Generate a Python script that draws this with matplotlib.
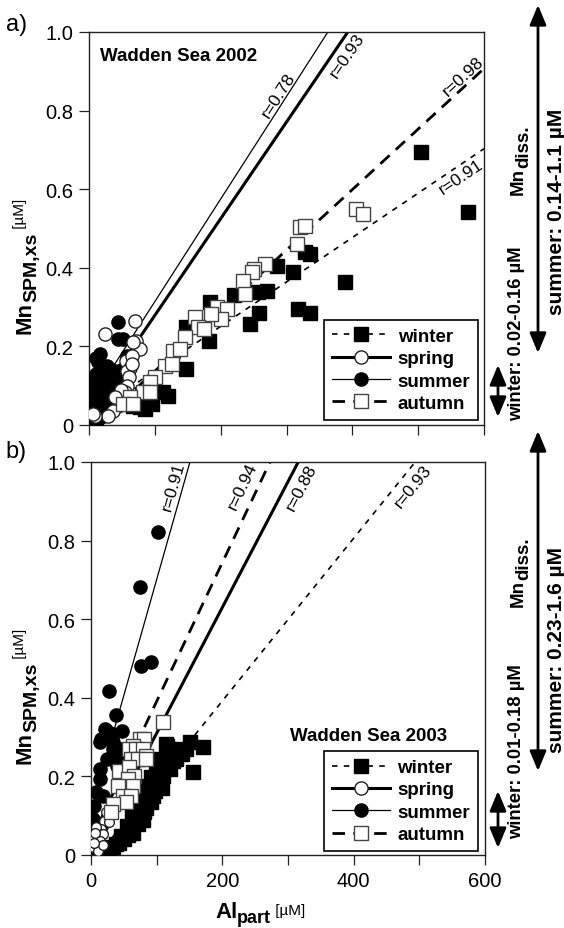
import numpy as np
import matplotlib
matplotlib.use("Agg")
import matplotlib.pyplot as plt
from matplotlib.lines import Line2D
from matplotlib.patches import FancyArrowPatch

plt.rcParams["font.family"] = ["Liberation Sans", "DejaVu Sans"]
plt.rcParams["lines.scale_dashes"] = False

W, H = 564, 929

seasons = ["winter", "spring", "summer", "autumn"]

# ---- Wadden Sea 2002: Al_part (uM) vs Mn_SPM,xs (uM) ----
winter_a_x = [504, 575, 389, 335, 328, 285, 310, 318, 335, 258, 245, 256, 270, 221, 184,
              147, 183, 148, 113, 120, 77, 95, 85, 67]
winter_a_y = [0.695, 0.543, 0.365, 0.435, 0.44, 0.405, 0.389, 0.295, 0.284, 0.285, 0.257,
              0.338, 0.342, 0.331, 0.314, 0.249, 0.215, 0.142, 0.083, 0.075, 0.045, 0.053,
              0.041, 0.049]
spring_a_x = [70, 24, 72, 78, 67, 56, 62, 57, 60, 57, 55, 52, 44, 37, 29, 9, 65, 66, 6, 48, 40]
spring_a_y = [0.265, 0.232, 0.215, 0.193, 0.212, 0.162, 0.145, 0.138, 0.121, 0.1, 0.083,
              0.066, 0.049, 0.036, 0.024, 0.024, 0.176, 0.155, 0.028, 0.09, 0.07]
summer_a_x = [44, 44, 52, 57, 17, 5, 8, 10, 12, 15, 18, 20, 22, 25, 28, 30, 33, 35, 38, 40,
              42, 45, 48, 50, 14, 10, 6, 4, 9, 16, 20, 26, 30, 35, 12, 3, 7, 24, 32, 44, 52,
              27, 19, 11, 6, 12, 18]
summer_a_y = [0.261, 0.219, 0.219, 0.176, 0.181, 0.03, 0.05, 0.08, 0.10, 0.12, 0.14, 0.11,
              0.09, 0.13, 0.15, 0.12, 0.10, 0.14, 0.12, 0.10, 0.13, 0.11, 0.14, 0.12, 0.16,
              0.13, 0.10, 0.07, 0.04, 0.06, 0.07, 0.08, 0.06, 0.08, 0.02, 0.05, 0.12, 0.11,
              0.09, 0.10, 0.13, 0.05, 0.15, 0.17, 0.015, 0.01, 0.02]
autumn_a_x = [406, 416, 321, 328, 316, 267, 250, 247, 234, 237, 194, 209, 201, 186, 161, 166,
              174, 146, 128, 138, 115, 126, 100, 93, 82, 93, 62, 52, 67]
autumn_a_y = [0.55, 0.537, 0.503, 0.507, 0.46, 0.41, 0.397, 0.389, 0.367, 0.333, 0.299,
              0.295, 0.27, 0.282, 0.274, 0.249, 0.244, 0.223, 0.189, 0.193, 0.151, 0.155,
              0.121, 0.109, 0.083, 0.083, 0.07, 0.053, 0.053]

# regression lines (slope, intercept) and correlation coefficients, 2002
fit_a_slope = [0.00113, 0.00246, 0.00261, 0.00154]
fit_a_icpt = [0.025, 0.033, 0.053, -0.017]
r_a = ["0.91", "0.93", "0.78", "0.98"]
r_a_pos = [(565, 0.634), (392, 0.941), (288, 0.84), (568, 0.888)]

# ---- Wadden Sea 2003 ----
winter_b_x = [22, 28, 38, 45, 43, 55, 56, 63, 64, 71, 72, 78, 79, 84, 86, 91, 92, 97, 99,
              102, 106, 110, 114, 115, 120, 122, 125, 138, 151, 156, 171, 50, 60, 68, 75, 80,
              88, 95, 104, 108, 118, 130, 134, 145, 33]
winter_b_y = [0.012, 0.015, 0.028, 0.049, 0.03, 0.075, 0.05, 0.1, 0.055, 0.125, 0.08, 0.151,
              0.09, 0.12, 0.176, 0.198, 0.135, 0.164, 0.219, 0.181, 0.244, 0.202, 0.282,
              0.278, 0.219, 0.27, 0.24, 0.257, 0.287, 0.21, 0.274, 0.04, 0.065, 0.09, 0.105,
              0.11, 0.15, 0.15, 0.19, 0.17, 0.23, 0.245, 0.265, 0.27, 0.02]
spring_b_x = [23, 20, 15, 12.6, 10, 7.6, 17.8, 28, 5, 3, 8, 14, 6, 11, 19, 4]
spring_b_y = [0.109, 0.087, 0.066, 0.049, 0.032, 0.019, 0.053, 0.083, 0.041, 0.02, 0.07,
              0.035, 0.055, 0.01, 0.025, 0.03]
summer_b_x = [102, 74, 76, 91, 28, 38, 21, 34, 47, 14, 34, 44, 24, 15, 25, 13, 13, 8, 5, 2.5,
              43, 39, 45, 33, 53, 10, 6, 4, 18, 3]
summer_b_y = [0.821, 0.683, 0.482, 0.49, 0.418, 0.355, 0.321, 0.308, 0.316, 0.287, 0.287,
              0.249, 0.244, 0.295, 0.316, 0.219, 0.193, 0.16, 0.125, 0.092, 0.253, 0.227,
              0.27, 0.27, 0.236, 0.06, 0.04, 0.02, 0.15, 0.07]
autumn_b_x = [109, 74, 81, 63.5, 58, 68.5, 79, 84, 61, 71, 84, 43, 58, 66, 56, 40.6, 63.5, 48,
              61, 53, 33, 30]
autumn_b_y = [0.339, 0.295, 0.295, 0.278, 0.27, 0.27, 0.27, 0.253, 0.244, 0.244, 0.244, 0.214,
              0.223, 0.202, 0.193, 0.176, 0.176, 0.151, 0.151, 0.134, 0.13, 0.109]

fit_b_slope = [0.00207, 0.0032, 0.0059, 0.00353]
fit_b_icpt = [-0.022, -0.01, 0.111, 0.038]
r_b = ["0.93", "0.88", "0.91", "0.94"]
r_b_pos = [(490, 0.939), (320, 0.936), (125, 0.939), (231, 0.939)]

x_ticks = [0, 100, 200, 300, 400, 500, 600]
x_ticklabels = ["0", "", "200", "", "400", "", "600"]
y_ticks = [0, 0.2, 0.4, 0.6, 0.8, 1.0]
y_ticklabels = ["0", "0.2", "0.4", "0.6", "0.8", "1.0"]

# marker / line appearance per season
mstyle = {
    "winter": dict(marker="s", mfc="black", mec="black"),
    "spring": dict(marker="o", mfc="white", mec="#222222"),
    "summer": dict(marker="o", mfc="black", mec="black"),
    "autumn": dict(marker="s", mfc="white", mec="#444444"),
}
lstyle = {
    "winter": dict(ls=(0, (4.0, 4.5)), lw=1.2),
    "spring": dict(ls="-", lw=2.2),
    "summer": dict(ls="-", lw=0.9),
    "autumn": dict(ls=(0, (9.0, 6.0)), lw=2.0),
}
MS = 9.5
# the 2003 spring samples are plotted with smaller circles
msize_b = {"winter": MS, "spring": 7.0, "summer": MS, "autumn": MS}
msize_a = {s: MS for s in seasons}

fig = plt.figure(figsize=(W / 100, H / 100), dpi=100)
ax_a = fig.add_axes([89 / W, 1 - 426 / H, 395 / W, 393 / H])
ax_b = fig.add_axes([91 / W, 1 - 856 / H, 394 / W, 393 / H])

panels = [
    (ax_a, {"winter": (winter_a_x, winter_a_y), "spring": (spring_a_x, spring_a_y),
            "summer": (summer_a_x, summer_a_y), "autumn": (autumn_a_x, autumn_a_y)},
     fit_a_slope, fit_a_icpt, r_a, r_a_pos, msize_a),
    (ax_b, {"winter": (winter_b_x, winter_b_y), "spring": (spring_b_x, spring_b_y),
            "summer": (summer_b_x, summer_b_y), "autumn": (autumn_b_x, autumn_b_y)},
     fit_b_slope, fit_b_icpt, r_b, r_b_pos, msize_b),
]

draw_order = ["winter", "summer", "spring", "autumn"]

for ax, data, slopes, icpts, rs, rpos, msz in panels:
    ax.set_xlim(0, 600)
    ax.set_ylim(0, 1.0)
    for i, s in enumerate(seasons):
        xx = np.array([0.0, 600.0])
        ax.plot(xx, icpts[i] + slopes[i] * xx, color="black", zorder=2,
                solid_capstyle="butt", dash_capstyle="butt", **lstyle[s])
    for k, s in enumerate(draw_order):
        xs, ys = data[s]
        ax.plot(xs, ys, ls="none", ms=msz[s], mew=1.0, zorder=3 + k, **mstyle[s])
    ax.set_xticks(x_ticks)
    ax.set_yticks(y_ticks)
    ax.set_yticklabels(y_ticklabels)
    ax.tick_params(direction="out", length=7, width=0.9, labelsize=14.5, pad=4.5,
                   color="#222222")
    for sp in ax.spines.values():
        sp.set_linewidth(1.0)
        sp.set_color("#222222")

ax_a.set_xticklabels([""] * len(x_ticks))
ax_b.set_xticklabels(x_ticklabels)

fig.canvas.draw()

# correlation labels rotated along the regression lines
for ax, data, slopes, icpts, rs, rpos, msz in panels:
    for i, s in enumerate(seasons):
        p1 = ax.transData.transform((100, icpts[i] + slopes[i] * 100))
        p2 = ax.transData.transform((300, icpts[i] + slopes[i] * 300))
        ang = np.degrees(np.arctan2(p2[1] - p1[1], p2[0] - p1[0]))
        ax.text(rpos[i][0], rpos[i][1], "r=" + rs[i], fontsize=12.5, rotation=ang,
                rotation_mode="anchor", ha="center", va="center", zorder=10)

ax_a.text(0.028, 0.962, "Wadden Sea 2002", transform=ax_a.transAxes, fontsize=13.5,
          fontweight="bold", ha="left", va="top")
ax_b.text(0.505, 0.326, "Wadden Sea 2003", transform=ax_b.transAxes, fontsize=13.5,
          fontweight="bold", ha="left", va="top")

handles = [Line2D([], [], color="black", ms=MS, mew=1.0, **mstyle[s], **lstyle[s])
           for s in seasons]
for ax, anchor in [(ax_a, (0.985, 0.013)), (ax_b, (0.982, 0.01))]:
    leg = ax.legend(handles, seasons, loc="lower right", bbox_to_anchor=anchor,
                    borderaxespad=0, handlelength=3.1, handletextpad=0.4,
                    labelspacing=0.28, borderpad=0.42, fancybox=False, framealpha=1,
                    edgecolor="black", prop={"weight": "bold", "size": 13.5})
    leg.get_frame().set_linewidth(1.2)
    leg.set_zorder(20)

renderer = fig.canvas.get_renderer()


def chain(pieces, x0, y0, rot):
    """Write consecutive text pieces along one baseline starting at pixel (x0, y0)."""
    X, Y = x0, H - y0
    for s, size, weight, shift in pieces:
        if rot == 0:
            t = fig.text(X / W, (Y - shift) / H, s, fontsize=size, fontweight=weight,
                         ha="left", va="baseline")
            X += t.get_window_extent(renderer).width
        else:
            t = fig.text((X + shift) / W, Y / H, s, fontsize=size, fontweight=weight,
                         rotation=90, rotation_mode="anchor", ha="left", va="baseline")
            Y += t.get_window_extent(renderer).height


# axis titles
for y0 in (334, 764):
    chain([("Mn", 16, "bold", 0), ("SPM,xs", 14, "bold", 5), (" [µM]", 11, "normal", -7)],
          31, y0, 90)
chain([("Al", 16, "bold", 0), ("part", 13, "bold", 5), (" [µM]", 11, "normal", -3)],
      215, 918, 0)

# panel letters
fig.text(6 / W, 1 - 31 / H, "a)", fontsize=17, ha="left", va="baseline")
fig.text(5 / W, 1 - 458 / H, "b)", fontsize=17, ha="left", va="baseline")

# dissolved Mn ranges beside each panel
for (y_mn, y_w, y_s, wtxt, stxt, arr_big, arr_small) in [
    (195, 334, 212, "winter: 0.02-0.16 µM", "summer: 0.14-1.1 µM", (6, 354), (366, 418)),
    (607, 752, 650, "winter: 0.01-0.18 µM", "summer: 0.23-1.6 µM", (432, 772), (792, 849)),
]:
    chain([("Mn", 13.5, "bold", 0), ("diss.", 13.5, "bold", 5)], 523, y_mn, 90)
    fig.text(517 / W, 1 - y_w / H, wtxt, fontsize=13.3, fontweight="bold", rotation=90,
             ha="center", va="center")
    fig.text(556 / W, 1 - y_s / H, stxt, fontsize=15, fontweight="bold", rotation=90,
             ha="center", va="center")
    for xa, (ya, yb) in [(538, arr_big), (498, arr_small)]:
        fig.add_artist(FancyArrowPatch((xa / W, 1 - ya / H), (xa / W, 1 - yb / H),
                                       transform=fig.transFigure,
                                       arrowstyle="<|-|>,head_length=0.6,head_width=0.25",
                                       mutation_scale=20, lw=2, color="black",
                                       shrinkA=0, shrinkB=0))

fig.savefig("out.png", dpi=100)
